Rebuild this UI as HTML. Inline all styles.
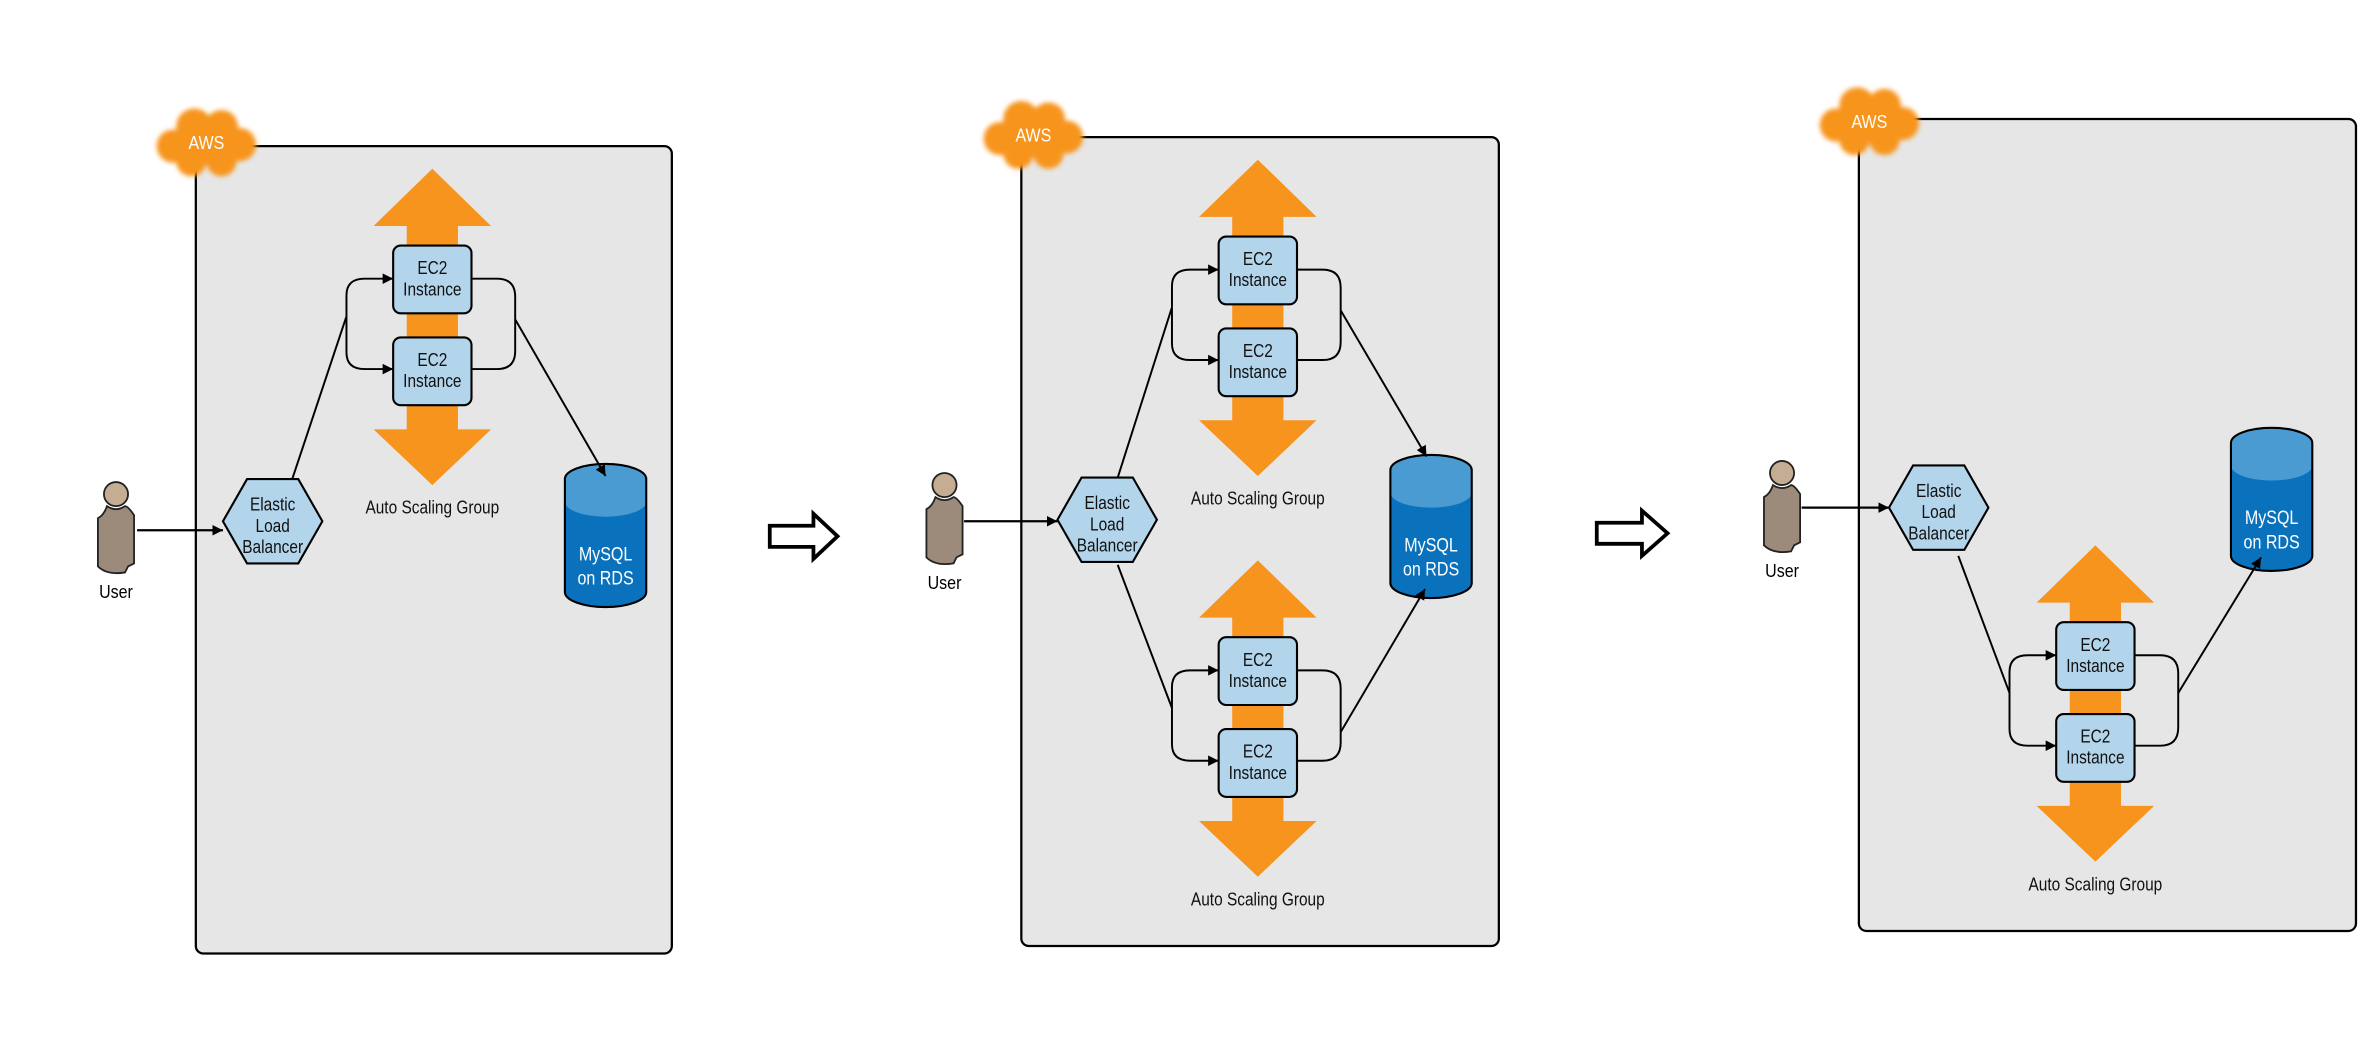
<!DOCTYPE html>
<html><head><meta charset="utf-8"><style>
html,body{margin:0;padding:0;background:#fff}
svg{display:block}
text{font-family:"Liberation Sans Narrow","Liberation Sans",sans-serif;}
</style></head><body>
<svg width="2362" height="1056" viewBox="0 0 1568 701" xmlns="http://www.w3.org/2000/svg">
<defs>
<marker id="ah" viewBox="0 0 10 10" refX="10" refY="5" markerWidth="7" markerHeight="7" orient="auto" markerUnits="userSpaceOnUse"><path d="M0,0L10,5L0,10z" fill="#000"/></marker>
<filter id="bl" x="-30%" y="-30%" width="160%" height="160%"><feGaussianBlur stdDeviation="1.6"/></filter>
<g id="cloud"><g fill="#f7941d" filter="url(#bl)"><ellipse cx="0" cy="0" rx="26" ry="14"/><circle cx="-22" cy="2" r="11"/><circle cx="22" cy="1" r="11"/><circle cx="-8" cy="-11" r="12"/><circle cx="10" cy="-11" r="11"/><circle cx="-10" cy="12" r="10"/><circle cx="10" cy="12" r="10"/></g></g>
<g id="user"><circle cx="0" cy="-24" r="8" fill="#c4ad93" stroke="#222" stroke-width="1.2"/><path d="M-6,-16 Q-8,-10 -12,-8 L-12,24 Q-6,30 6,28 L8,24 L12,22 L12,-10 Q8,-16 6,-16 Q0,-12 -6,-16z" fill="#9c8b7a" stroke="#222" stroke-width="1.2"/></g>
<g id="asg">
<polygon points="0,0 39,38 17,38 17,173 39,173 0,210 -39,173 -17,173 -17,38 -39,38" fill="#f7941d"/>
<path d="M-57,98 L-57,84 Q-57,73 -45,73 L-26,73" fill="none" stroke="#000" stroke-width="1.3" marker-end="url(#ah)"/>
<path d="M-57,98 L-57,122 Q-57,133 -45,133 L-26,133" fill="none" stroke="#000" stroke-width="1.3" marker-end="url(#ah)"/>
<path d="M26,73 L43,73 Q55,73 55,85 L55,121 Q55,133 43,133 L26,133" fill="none" stroke="#000" stroke-width="1.3"/>
<rect x="-26" y="51" width="52" height="45" rx="5" fill="#b3d5ec" stroke="#000" stroke-width="1.4"/>
<rect x="-26" y="112" width="52" height="45" rx="5" fill="#b3d5ec" stroke="#000" stroke-width="1.4"/>
<g font-size="12.5" text-anchor="middle" fill="#111" transform="scale(0.82,1)"><text x="0" y="70">EC2</text><text x="0" y="84">Instance</text><text x="0" y="131">EC2</text><text x="0" y="145">Instance</text><text x="0" y="229">Auto Scaling Group</text></g>
</g>
<g id="elb"><polygon points="-33,0 -17,-28 17,-28 33,0 17,28 -17,28" fill="#b3d5ec" stroke="#000" stroke-width="1.4"/><g font-size="12.5" text-anchor="middle" fill="#111" transform="scale(0.82,1)"><text x="0" y="-7">Elastic</text><text x="0" y="7">Load</text><text x="0" y="21">Balancer</text></g></g>
<g id="db"><path d="M0,10 A27,10 0 0 1 54,10 L54,85 A27,10 0 0 1 0,85z" fill="#0a72bd"/><path d="M0,10 A27,10 0 0 1 54,10 L54,25 A27,10 0 0 1 0,25z" fill="#4a9bd1"/><path d="M0,10 A27,10 0 0 1 54,10 L54,85 A27,10 0 0 1 0,85z" fill="none" stroke="#000" stroke-width="1.4"/><g font-size="13" text-anchor="middle" fill="#fff" transform="translate(27,0) scale(0.82,1)"><text x="0" y="64">MySQL</text><text x="0" y="80">on RDS</text></g></g>
<g id="awslbl"><text x="0" y="4" font-size="12.5" fill="#fff" text-anchor="middle" transform="scale(0.85,1)">AWS</text></g>
<g id="userlbl"><text x="0" y="0" font-size="12.5" text-anchor="middle" transform="scale(0.85,1)">User</text></g>
</defs>

<!-- Panel 1 -->
<rect x="130" y="97" width="316" height="536" rx="5" fill="#e6e6e6" stroke="#000" stroke-width="1.5"/>
<use href="#cloud" x="137" y="95"/><use href="#awslbl" x="137" y="95"/>
<use href="#db" x="375" y="308"/>
<use href="#asg" x="287" y="112"/>
<line x1="194" y1="318" x2="230" y2="210" stroke="#000" stroke-width="1.3"/>
<line x1="342" y1="212" x2="402" y2="316" stroke="#000" stroke-width="1.3" marker-end="url(#ah)"/>
<line x1="91" y1="352" x2="148" y2="352" stroke="#000" stroke-width="1.5" marker-end="url(#ah)"/>
<use href="#elb" x="181" y="346"/>
<use href="#user" x="77" y="352"/><use href="#userlbl" x="77" y="397"/>

<!-- arrow 1 -->
<path d="M511,349 L540,349 L540,341 L556,356 L540,371 L540,363 L511,363z" fill="#fff" stroke="#000" stroke-width="2.5"/>

<!-- Panel 2 -->
<rect x="678" y="91" width="317" height="537" rx="5" fill="#e6e6e6" stroke="#000" stroke-width="1.5"/>
<use href="#cloud" x="686" y="90"/><use href="#awslbl" x="686" y="90"/>
<use href="#db" x="923" y="302"/>
<use href="#asg" x="835" y="106"/>
<use href="#asg" x="835" y="372"/>
<line x1="742" y1="317" x2="778" y2="204" stroke="#000" stroke-width="1.3"/>
<line x1="742" y1="375" x2="778" y2="470" stroke="#000" stroke-width="1.3"/>
<line x1="890" y1="206" x2="947" y2="303" stroke="#000" stroke-width="1.3" marker-end="url(#ah)"/>
<line x1="890" y1="486" x2="946" y2="391" stroke="#000" stroke-width="1.3" marker-end="url(#ah)"/>
<line x1="640" y1="346" x2="702" y2="346" stroke="#000" stroke-width="1.5" marker-end="url(#ah)"/>
<use href="#elb" x="735" y="345"/>
<use href="#user" x="627" y="346"/><use href="#userlbl" x="627" y="391"/>

<!-- arrow 2 -->
<path d="M1060,347 L1090,347 L1090,339 L1107,354 L1090,369 L1090,361 L1060,361z" fill="#fff" stroke="#000" stroke-width="2.5"/>

<!-- Panel 3 -->
<rect x="1234" y="79" width="330" height="539" rx="5" fill="#e6e6e6" stroke="#000" stroke-width="1.5"/>
<use href="#cloud" x="1241" y="81"/><use href="#awslbl" x="1241" y="81"/>
<use href="#db" x="1481" y="284"/>
<use href="#asg" x="1391" y="362"/>
<line x1="1300" y1="369" x2="1334" y2="460" stroke="#000" stroke-width="1.3"/>
<line x1="1446" y1="460" x2="1501" y2="370" stroke="#000" stroke-width="1.3" marker-end="url(#ah)"/>
<line x1="1196" y1="337" x2="1254" y2="337" stroke="#000" stroke-width="1.5" marker-end="url(#ah)"/>
<use href="#elb" x="1287" y="337"/>
<use href="#user" x="1183" y="338"/><use href="#userlbl" x="1183" y="383"/>
</svg>
</body></html>
